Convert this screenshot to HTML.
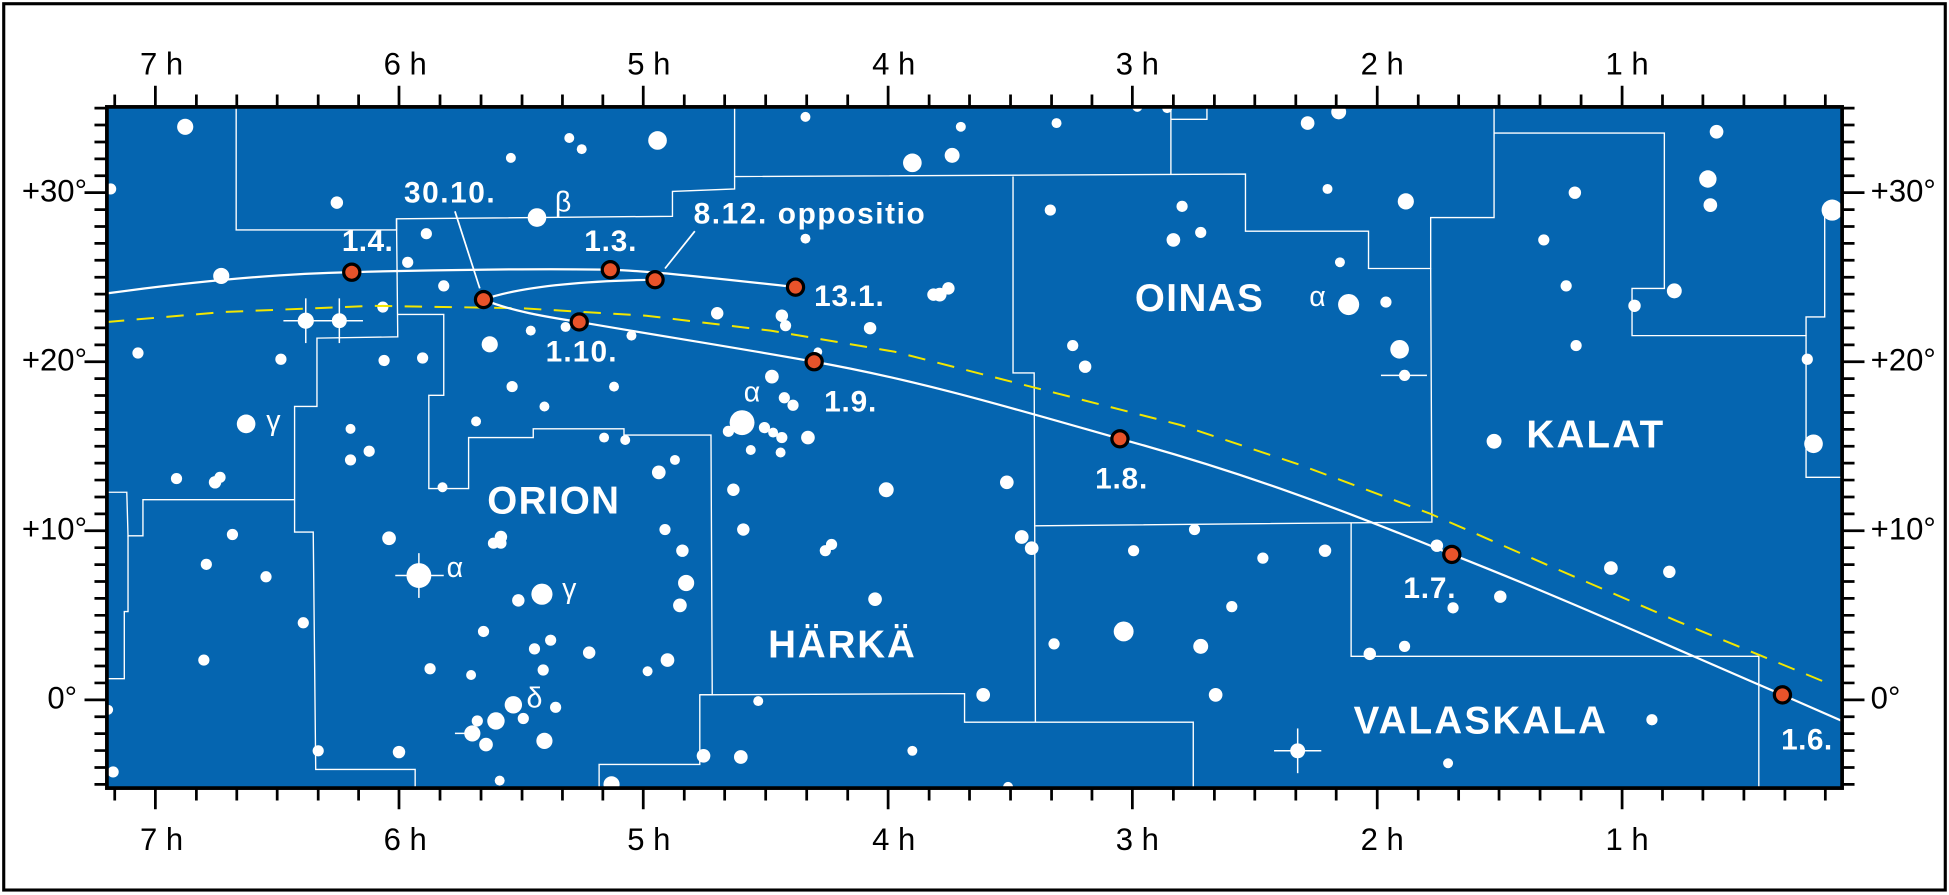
<!DOCTYPE html>
<html><head><meta charset="utf-8"><style>
html,body{margin:0;padding:0;background:#fff;}
svg{display:block;}
text{font-family:"Liberation Sans",sans-serif;}
</style></head><body>
<svg width="1949" height="895" viewBox="0 0 1568 720" preserveAspectRatio="none" xmlns="http://www.w3.org/2000/svg">
<rect x="0" y="0" width="1568" height="720" fill="#fff"/>
<rect x="3" y="3" width="1562" height="713" fill="none" stroke="#000" stroke-width="2.5"/>
<rect x="86" y="86" width="1396" height="548" fill="#0565b0"/>
<g stroke="#fff" stroke-width="1.1" fill="none">
<polyline points="190,86 190,185 319,185 319,176 541,174 541,154 591,152 591,86"/>
<polyline points="319,176 320,271 255,272 255,327 237,327 237,428 252,428 254,619 334,619 334,634"/>
<polyline points="320,253 357,253 357,318 345,318 345,393 377,393 377,352 429,352 429,345 502,345 502,350 572,350 573,559 563,559 563,615 482,615 482,634"/>
<polyline points="563,559 776,558 776,581 960,581 960,634"/>
<polyline points="591,142 1002,140 1002,186 1101,186 1101,216 1151,216 1151,175 1202,175 1202,86"/>
<polyline points="942,86 942,140"/>
<polyline points="942,96 971,96 971,86"/>
<polyline points="815,142 815,300 832,300 833,581"/>
<polyline points="833,423 1152,420 1151,216"/>
<polyline points="1087,421 1087,528 1415,528 1415,634"/>
<polyline points="1202,107 1339,107 1339,232 1313,232 1313,270 1453,270 1453,384 1482,384"/>
<polyline points="1453,270 1453,255 1468,255 1468,168 1482,168"/>
<polyline points="86,396 102,396 103,431 115,431 115,402 237,402"/>
<polyline points="103,431 103,492 100,492 100,546 86,546"/>
</g>
<g fill="#fff">
<circle cx="149" cy="102" r="6.5"/><circle cx="89" cy="152" r="4.5"/><circle cx="271" cy="163" r="5"/><circle cx="411" cy="127" r="4"/><circle cx="458" cy="111" r="4"/><circle cx="468" cy="120" r="4"/><circle cx="432" cy="175" r="7.5"/><circle cx="343" cy="188" r="4.5"/><circle cx="328" cy="211" r="4.5"/><circle cx="178" cy="222" r="6.5"/><circle cx="357" cy="230" r="4.5"/><circle cx="308" cy="247" r="4.5"/><circle cx="246" cy="258" r="6.5"/><circle cx="273" cy="258" r="6"/><circle cx="394" cy="277" r="6.5"/><circle cx="427" cy="266" r="4"/><circle cx="455" cy="263" r="4"/><circle cx="508" cy="270" r="4"/><circle cx="111" cy="284" r="4.5"/><circle cx="226" cy="289" r="4.5"/><circle cx="309" cy="290" r="4.5"/><circle cx="340" cy="288" r="4.5"/><circle cx="412" cy="311" r="4.5"/><circle cx="494" cy="311" r="4"/><circle cx="438" cy="327" r="4"/><circle cx="198" cy="341" r="7.5"/><circle cx="282" cy="345" r="4"/><circle cx="282" cy="370" r="4.5"/><circle cx="297" cy="363" r="4.5"/><circle cx="383" cy="339" r="4"/><circle cx="486" cy="352" r="4"/><circle cx="503" cy="354" r="4"/><circle cx="142" cy="385" r="4.5"/><circle cx="173" cy="388" r="5"/><circle cx="177" cy="384" r="4.5"/><circle cx="356" cy="392" r="4"/><circle cx="403" cy="432" r="5"/><circle cx="397" cy="437" r="4.5"/><circle cx="403" cy="437" r="4.5"/><circle cx="187" cy="430" r="4.5"/><circle cx="313" cy="433" r="5.5"/><circle cx="166" cy="454" r="4.5"/><circle cx="214" cy="464" r="4.5"/><circle cx="337" cy="463" r="10"/><circle cx="436" cy="478" r="8.5"/><circle cx="417" cy="483" r="5"/><circle cx="244" cy="501" r="4.5"/><circle cx="389" cy="508" r="4.5"/><circle cx="430" cy="522" r="4.5"/><circle cx="443" cy="515" r="4.5"/><circle cx="474" cy="525" r="5"/><circle cx="164" cy="531" r="4.5"/><circle cx="346" cy="538" r="4.5"/><circle cx="379" cy="543" r="4"/><circle cx="437" cy="539" r="4.5"/><circle cx="521" cy="540" r="4"/><circle cx="413" cy="567" r="7"/><circle cx="421" cy="578" r="4.5"/><circle cx="447" cy="569" r="4.5"/><circle cx="399" cy="580" r="7"/><circle cx="384" cy="580" r="4.5"/><circle cx="380" cy="590" r="6.5"/><circle cx="391" cy="599" r="5.5"/><circle cx="438" cy="596" r="6.5"/><circle cx="87" cy="571" r="4"/><circle cx="91" cy="621" r="4.5"/><circle cx="256" cy="604" r="4.5"/><circle cx="321" cy="605" r="5"/><circle cx="402" cy="628" r="4"/><circle cx="492" cy="631" r="6.5"/>
<circle cx="529" cy="113" r="7.5"/><circle cx="648" cy="94" r="4"/><circle cx="773" cy="102" r="4"/><circle cx="734" cy="131" r="7.5"/><circle cx="766" cy="125" r="6"/><circle cx="850" cy="99" r="4"/><circle cx="915" cy="86" r="4"/><circle cx="939" cy="87" r="4"/><circle cx="648" cy="192" r="4"/><circle cx="845" cy="169" r="4.5"/><circle cx="951" cy="166" r="4.5"/><circle cx="944" cy="193" r="5.5"/><circle cx="966" cy="187" r="4.5"/><circle cx="577" cy="252" r="5"/><circle cx="629" cy="254" r="5"/><circle cx="632" cy="262" r="4.5"/><circle cx="700" cy="264" r="5"/><circle cx="751" cy="237" r="5"/><circle cx="756" cy="237" r="5.5"/><circle cx="763" cy="232" r="5"/><circle cx="658" cy="283" r="3.5"/><circle cx="863" cy="278" r="4.5"/><circle cx="873" cy="295" r="5"/><circle cx="621" cy="303" r="5.5"/><circle cx="631" cy="320" r="4.5"/><circle cx="638" cy="326" r="4.5"/><circle cx="597" cy="340" r="10"/><circle cx="586" cy="347" r="4.5"/><circle cx="615" cy="344" r="4.5"/><circle cx="622" cy="348" r="4"/><circle cx="629" cy="352" r="4.5"/><circle cx="650" cy="352" r="5.5"/><circle cx="604" cy="362" r="4"/><circle cx="628" cy="364" r="4"/><circle cx="543" cy="370" r="4"/><circle cx="530" cy="380" r="5.5"/><circle cx="590" cy="394" r="5"/><circle cx="713" cy="394" r="6"/><circle cx="810" cy="388" r="5.5"/><circle cx="535" cy="426" r="4.5"/><circle cx="598" cy="426" r="5"/><circle cx="549" cy="443" r="5"/><circle cx="822" cy="432" r="5.5"/><circle cx="830" cy="441" r="5.5"/><circle cx="669" cy="438" r="4.5"/><circle cx="664" cy="443" r="4.5"/><circle cx="961" cy="426" r="4.5"/><circle cx="912" cy="443" r="4.5"/><circle cx="1016" cy="449" r="4.5"/><circle cx="552" cy="469" r="6.5"/><circle cx="547" cy="487" r="5.5"/><circle cx="704" cy="482" r="5.5"/><circle cx="991" cy="488" r="4.5"/><circle cx="904" cy="508" r="8"/><circle cx="848" cy="518" r="4.5"/><circle cx="966" cy="520" r="6"/><circle cx="537" cy="531" r="5.5"/><circle cx="978" cy="559" r="5.5"/><circle cx="791" cy="559" r="5.5"/><circle cx="610" cy="564" r="4"/><circle cx="566" cy="608" r="5.5"/><circle cx="596" cy="609" r="5.5"/><circle cx="734" cy="604" r="4"/><circle cx="811" cy="633" r="4"/><circle cx="1044" cy="604" r="6"/>
<circle cx="1052" cy="99" r="5.5"/><circle cx="1077" cy="90" r="6"/><circle cx="1068" cy="152" r="4"/><circle cx="1131" cy="162" r="6.5"/><circle cx="1078" cy="211" r="4"/><circle cx="1115" cy="243" r="4.5"/><circle cx="1085" cy="245" r="8.5"/><circle cx="1126" cy="281" r="7.5"/><circle cx="1130" cy="302" r="4.5"/><circle cx="1381" cy="106" r="5.5"/><circle cx="1374" cy="144" r="7"/><circle cx="1376" cy="165" r="5.5"/><circle cx="1474" cy="169" r="8.5"/><circle cx="1267" cy="155" r="5"/><circle cx="1242" cy="193" r="4.5"/><circle cx="1260" cy="230" r="4.5"/><circle cx="1268" cy="278" r="4.5"/><circle cx="1347" cy="234" r="6"/><circle cx="1315" cy="246" r="5"/><circle cx="1454" cy="289" r="4.5"/><circle cx="1459" cy="357" r="7.5"/><circle cx="1202" cy="355" r="6"/><circle cx="1066" cy="443" r="5"/><circle cx="1156" cy="439" r="5"/><circle cx="1169" cy="489" r="4.5"/><circle cx="1207" cy="480" r="5"/><circle cx="1296" cy="457" r="5.5"/><circle cx="1343" cy="460" r="5"/><circle cx="1102" cy="526" r="5"/><circle cx="1130" cy="520" r="4.5"/><circle cx="1329" cy="579" r="4.5"/><circle cx="1165" cy="614" r="4"/>
</g>
<g stroke="#fff" stroke-width="1.2">
<line x1="318" y1="463" x2="357" y2="463"/><line x1="337" y1="445" x2="337" y2="481"/>
<line x1="228" y1="258" x2="292" y2="258"/><line x1="246" y1="240" x2="246" y2="276"/><line x1="273" y1="240" x2="273" y2="276"/>
<line x1="1111" y1="302" x2="1148" y2="302"/>
<line x1="1025" y1="604" x2="1063" y2="604"/><line x1="1044" y1="586" x2="1044" y2="622"/>
<line x1="366" y1="590" x2="380" y2="590"/>
</g>
<polyline points="86,259 180,251 300,246 420,248 520,254 620,266 720,283 833,312 950,342 1046,374 1150,413 1246,455 1350,500 1469,549" fill="none" stroke="#f2e600" stroke-width="1.6" stroke-dasharray="14,10"/>
<g stroke="#fff" stroke-width="1.8" fill="none">
<path d="M86,236 C160,226 230,220 283,219 C350,217 440,216 491,217 C520,218 560,222 640,231"/>
<path d="M389,241 C420,230 470,226 527,225"/>
<path d="M389,241 C410,250 440,255 466,259 C530,270 600,281 655,291 C740,306 820,330 901,353 C1000,380 1080,410 1168,446 C1260,482 1350,523 1434,559 L1482,580"/>
<line x1="366" y1="170" x2="386" y2="232" stroke-width="1.4"/>
<line x1="559" y1="186" x2="535" y2="216" stroke-width="1.4"/>
</g>
<g fill="#e8532a" stroke="#000" stroke-width="2.6">
<circle cx="283" cy="219" r="6.5"/><circle cx="389" cy="241" r="6.5"/><circle cx="491" cy="217" r="6.5"/><circle cx="527" cy="225" r="6.5"/><circle cx="640" cy="231" r="6.5"/><circle cx="466" cy="259" r="6.5"/><circle cx="655" cy="291" r="6.5"/><circle cx="901" cy="353" r="6.5"/><circle cx="1168" cy="446" r="6.5"/><circle cx="1434" cy="559" r="6.5"/>
</g>
<g fill="#fff" font-weight="bold" font-size="24" lengthAdjust="spacingAndGlyphs">
<text x="275" y="202" textLength="41">1.4.</text><text x="325" y="163" textLength="73">30.10.</text><text x="470" y="202" textLength="42">1.3.</text><text x="439" y="291" textLength="57">1.10.</text><text x="558" y="180" textLength="186">8.12. oppositio</text><text x="655" y="246" textLength="56">13.1.</text><text x="663" y="331" textLength="42">1.9.</text><text x="881" y="393" textLength="42">1.8.</text><text x="1129" y="481" textLength="42">1.7.</text><text x="1433" y="603" textLength="41">1.6.</text>
</g>
<g fill="#fff" font-weight="bold" font-size="31">
<text x="392" y="413" textLength="106">ORION</text><text x="618" y="529" textLength="118">HÄRKÄ</text><text x="913" y="250" textLength="103">OINAS</text><text x="1228" y="360" textLength="110">KALAT</text><text x="1089" y="590" textLength="203">VALASKALA</text>
</g>
<g fill="#fff" font-size="23" text-anchor="middle">
<text x="453" y="170">β</text><text x="220" y="346">γ</text><text x="366" y="464">α</text><text x="458" y="481">γ</text><text x="430" y="569">δ</text><text x="605" y="323">α</text><text x="1060" y="246">α</text>
</g>
<rect x="86" y="86" width="1396" height="548" fill="none" stroke="#000" stroke-width="3"/>
<g stroke="#000" stroke-width="2.2">
<path d="M92.3,86v-10M92.3,634v10M158,86v-10M158,634v10M190.5,86v-10M190.5,634v10M223,86v-10M223,634v10M256,86v-10M256,634v10M288.5,86v-10M288.5,634v10M354,86v-10M354,634v10M387,86v-10M387,634v10M420,86v-10M420,634v10M452.5,86v-10M452.5,634v10M485,86v-10M485,634v10M550.5,86v-10M550.5,634v10M583,86v-10M583,634v10M616,86v-10M616,634v10M649,86v-10M649,634v10M682,86v-10M682,634v10M747.5,86v-10M747.5,634v10M780,86v-10M780,634v10M813,86v-10M813,634v10M846,86v-10M846,634v10M878.5,86v-10M878.5,634v10M944,86v-10M944,634v10M977,86v-10M977,634v10M1009.5,86v-10M1009.5,634v10M1042.5,86v-10M1042.5,634v10M1075,86v-10M1075,634v10M1141,86v-10M1141,634v10M1173.5,86v-10M1173.5,634v10M1206,86v-10M1206,634v10M1239,86v-10M1239,634v10M1272,86v-10M1272,634v10M1337.5,86v-10M1337.5,634v10M1370,86v-10M1370,634v10M1403,86v-10M1403,634v10M1436,86v-10M1436,634v10M1468.5,86v-10M1468.5,634v10"/>
<path d="M125,86v-17M125,634v17M321,86v-17M321,634v17M517.5,86v-17M517.5,634v17M714.5,86v-17M714.5,634v17M911,86v-17M911,634v17M1108,86v-17M1108,634v17M1305,86v-17M1305,634v17"/>
<path d="M86,631.0h-10M86,617.4h-10M86,603.8h-10M86,590.2h-10M86,576.6h-10M86,549.4h-10M86,535.8h-10M86,522.2h-10M86,508.6h-10M86,495.0h-10M86,481.4h-10M86,467.8h-10M86,454.2h-10M86,440.6h-10M86,413.4h-10M86,399.8h-10M86,386.2h-10M86,372.6h-10M86,359.0h-10M86,345.4h-10M86,331.8h-10M86,318.2h-10M86,304.6h-10M86,277.4h-10M86,263.8h-10M86,250.2h-10M86,236.6h-10M86,223.0h-10M86,209.4h-10M86,195.8h-10M86,182.2h-10M86,168.6h-10M86,141.4h-10M86,127.8h-10M86,114.2h-10M86,100.6h-10M86,87h-10"/>
<path d="M1482,631.0h10M1482,617.4h10M1482,603.8h10M1482,590.2h10M1482,576.6h10M1482,549.4h10M1482,535.8h10M1482,522.2h10M1482,508.6h10M1482,495.0h10M1482,481.4h10M1482,467.8h10M1482,454.2h10M1482,440.6h10M1482,413.4h10M1482,399.8h10M1482,386.2h10M1482,372.6h10M1482,359.0h10M1482,345.4h10M1482,331.8h10M1482,318.2h10M1482,304.6h10M1482,277.4h10M1482,263.8h10M1482,250.2h10M1482,236.6h10M1482,223.0h10M1482,209.4h10M1482,195.8h10M1482,182.2h10M1482,168.6h10M1482,141.4h10M1482,127.8h10M1482,114.2h10M1482,100.6h10M1482,87h10"/>
<path d="M86,563h-18M86,427h-18M86,291h-18M86,155h-18M1482,563h18M1482,427h18M1482,291h18M1482,155h18"/>
</g>
<g fill="#000" font-size="25" text-anchor="middle">
<text x="130" y="60">7 h</text><text x="326" y="60">6 h</text><text x="522" y="60">5 h</text><text x="719" y="60">4 h</text><text x="915" y="60">3 h</text><text x="1112" y="60">2 h</text><text x="1309" y="60">1 h</text>
<text x="130" y="684">7 h</text><text x="326" y="684">6 h</text><text x="522" y="684">5 h</text><text x="719" y="684">4 h</text><text x="915" y="684">3 h</text><text x="1112" y="684">2 h</text><text x="1309" y="684">1 h</text>
</g>
<g fill="#000" font-size="25" text-anchor="end">
<text x="70" y="162">+30°</text><text x="70" y="298">+20°</text><text x="70" y="434">+10°</text><text x="62" y="570">0°</text>
</g>
<g fill="#000" font-size="25">
<text x="1505" y="162">+30°</text><text x="1505" y="298">+20°</text><text x="1505" y="434">+10°</text><text x="1505" y="570">0°</text>
</g>
</svg>
</body></html>
